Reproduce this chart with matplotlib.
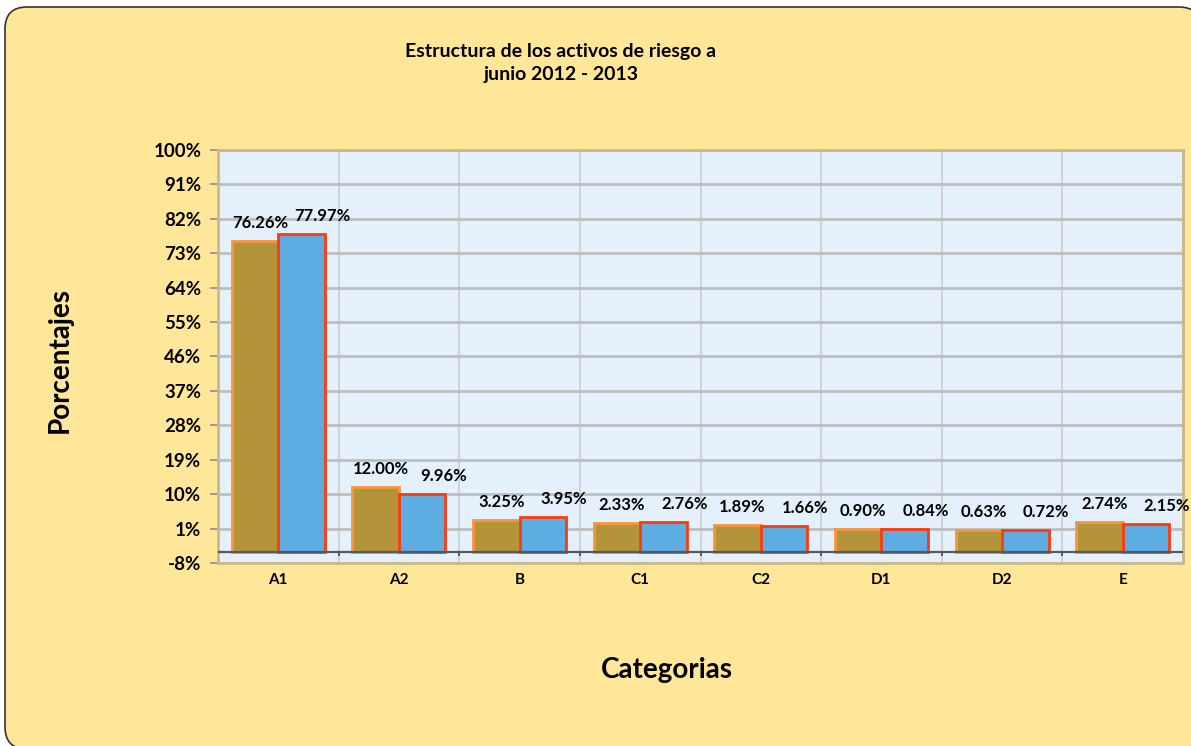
import numpy as np
import matplotlib.pyplot as plt
from matplotlib.patches import FancyBboxPatch

# Datos: estructura de los activos de riesgo (junio 2012 / junio 2013)
categorias = ["A1", "A2", "B", "C1", "C2", "D1", "D2", "E"]
jun_2012 = [76.26, 12.00, 3.25, 2.33, 1.89, 0.90, 0.63, 2.74]
jun_2013 = [77.97, 9.96, 3.95, 2.76, 1.66, 0.84, 0.72, 2.15]
y_ticks = [-8, 1, 10, 19, 28, 37, 46, 55, 64, 73, 82, 91, 100]

plt.rcParams["font.family"] = ["Lato", "DejaVu Sans"]
plt.rcParams["font.weight"] = "bold"

fondo = "#FFE699"
fondo_grafico = "#E4F1FC"
cruce = -5  # el eje de categorias cruza en -5%

fig = plt.figure(figsize=(11.91, 7.46), dpi=100, facecolor="white")

# marco redondeado del area del grafico
marco = FancyBboxPatch((5 / 1191, -3 / 746), 1196 / 1191, (746 - 7 + 3) / 746,
                       boxstyle="round,pad=0,rounding_size=0.0185",
                       transform=fig.transFigure, facecolor=fondo,
                       edgecolor="#333333", linewidth=1.2, zorder=-1,
                       mutation_aspect=1191 / 746)
fig.patches.append(marco)

ax = fig.add_axes([218 / 1191, 1 - 563 / 746, (1183 - 218) / 1191, (563 - 150) / 746])
ax.set_facecolor(fondo_grafico)

x = np.arange(len(categorias))
ancho = 0.385
alto_2012 = np.array(jun_2012) - cruce
alto_2013 = np.array(jun_2013) - cruce
b1 = ax.bar(x - ancho / 2, alto_2012, ancho, bottom=cruce, color="#B3943A",
            edgecolor="#F7963C", linewidth=2, zorder=3)
b2 = ax.bar(x + ancho / 2, alto_2013, ancho, bottom=cruce, color="#5DACE2",
            edgecolor="#FF3A0A", linewidth=2, zorder=3)

# etiquetas de datos
for xi, v in zip(x, jun_2012):
    ax.annotate(f"{v:.2f}%", (xi - ancho / 2, v), xytext=(5, 18),
                textcoords="offset pixels", ha="center", va="center",
                fontsize=12, fontweight="bold", clip_on=False, zorder=5)
for xi, v in zip(x, jun_2013):
    ax.annotate(f"{v:.2f}%", (xi + ancho / 2, v), xytext=(21, 18),
                textcoords="offset pixels", ha="center", va="center",
                fontsize=12, fontweight="bold", clip_on=False, zorder=5)

ax.set_xlim(-0.5, len(categorias) - 0.5)
ax.set_ylim(-8, 100)
ax.set_yticks(y_ticks)
ax.set_yticklabels([f"{t}%" for t in y_ticks], fontsize=13.5, fontweight="bold")
ax.set_xticks(x)
ax.set_xticklabels(categorias, fontsize=11, fontweight="bold")
limites = np.arange(len(categorias) + 1) - 0.5
ax.set_xticks(limites, minor=True)

ax.tick_params(axis="y", direction="out", length=6, width=1.2, color="#8C8C8C", pad=6)
ax.tick_params(axis="x", which="both", length=0, pad=7)
ax.grid(axis="y", color="#BEBEBE", linewidth=2, zorder=0)
ax.grid(axis="x", which="minor", color="#CDCDCD", linewidth=1.2, zorder=0)
ax.grid(axis="x", which="major", visible=False)
ax.set_axisbelow(True)

for lado in ["left", "right", "top", "bottom"]:
    ax.spines[lado].set_color("#C9B98A")
    ax.spines[lado].set_linewidth(2)

# eje de categorias en el punto de cruce con marcas hacia abajo
ax.axhline(cruce, color="#595959", linewidth=1.6, zorder=4)
ax.vlines(limites[1:-1], cruce - 1.1, cruce, color="#595959", linewidth=1.4, zorder=4)

fig.text(561 / 1191, 1 - 63 / 746, "Estructura de los activos de riesgo a\njunio 2012 - 2013",
         ha="center", va="center", fontsize=14, fontweight="bold", linespacing=1.45)
fig.text(60 / 1191, 1 - 360 / 746, "Porcentajes", rotation=90, ha="center",
         va="center", fontsize=20, fontweight="bold")
fig.text(667 / 1191, 1 - 670 / 746, "Categorias", ha="center", va="center",
         fontsize=20, fontweight="bold")

fig.savefig("out.png", dpi=100, facecolor=fig.get_facecolor())
